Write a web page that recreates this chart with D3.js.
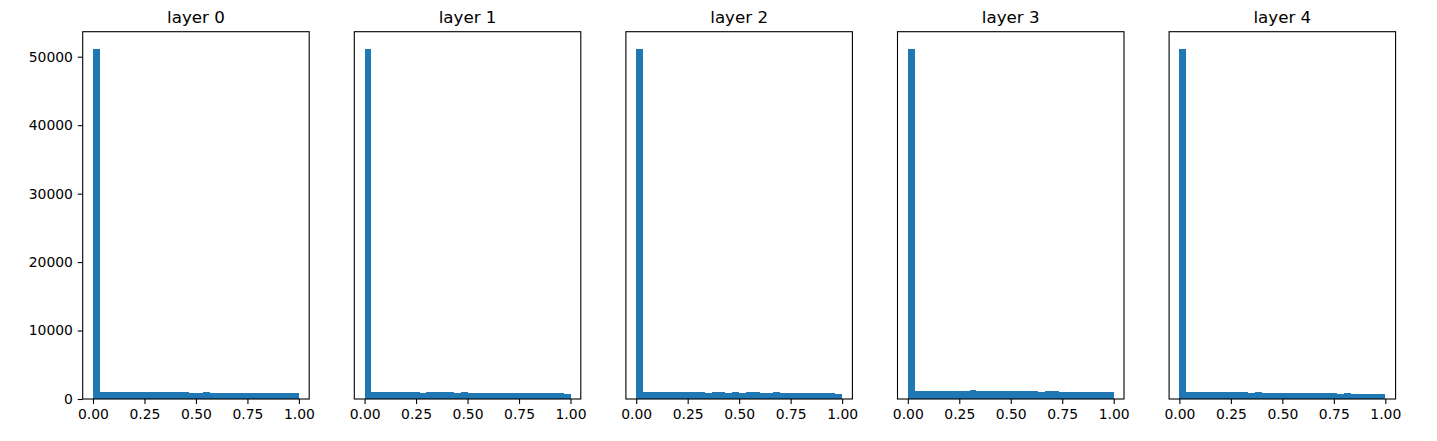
<!DOCTYPE html>
<html><head><meta charset="utf-8">
<script src="https://cdn.jsdelivr.net/npm/d3@7/dist/d3.min.js"></script>
<style>body{margin:0;background:#fff}svg{display:block}text{font-family:"DejaVu Sans",sans-serif;fill:#000}</style>
</head><body><svg id="c" width="1437" height="441"></svg>
<script>
const titles = ["layer 0","layer 1","layer 2","layer 3","layer 4"];
const binRange = [0, 1];
const binCount = 30;
const layer0 = [51100,1000,1000,1000,1000,1000,1000,1000,1000,1000,1000,1000,1000,1000,900,900,1000,900,900,900,900,900,900,900,900,900,900,900,900,900];
const layer1 = [51100,1000,1000,1000,1000,1000,1000,1000,900,1000,1000,1000,1000,900,1000,900,900,900,900,900,900,900,900,900,900,900,900,900,900,780];
const layer2 = [51100,1000,1000,1000,1000,1000,1000,1000,1000,1000,900,1000,1000,900,1000,900,1000,1000,900,900,1000,900,900,900,900,900,900,900,900,780];
const layer3 = [51100,1120,1120,1120,1120,1120,1120,1120,1120,1250,1120,1120,1120,1120,1120,1120,1120,1120,1120,1000,1120,1120,1000,1000,1000,1000,1000,1000,1000,1000];
const layer4 = [51100,1000,1000,1000,1000,1000,1000,1000,1000,1000,900,1000,900,900,900,900,900,900,900,900,900,900,900,780,900,780,780,780,780,780];
const layers = [layer0, layer1, layer2, layer3, layer4];
const xTicks = [0, 0.25, 0.5, 0.75, 1.0];
const yTicks = [0, 10000, 20000, 30000, 40000, 50000];

const svg = d3.select("#c");
const axW = 226.5, axTop = 31.7, axBottom = 399, firstLeft = 82.7, step = 271.6;
const ymax = d3.max(layers.flat()) * 1.05;
const y = d3.scaleLinear().domain([0, ymax]).range([axBottom, axTop]);
const pad = (binRange[1]-binRange[0])*0.05;

layers.forEach((vals, k) => {
  const left = firstLeft + k*step;
  const x = d3.scaleLinear().domain([binRange[0]-pad, binRange[1]+pad]).range([left, left+axW]);
  const g = svg.append("g");
  const bw = (binRange[1]-binRange[0])/binCount;
  g.append("g").attr("shape-rendering","crispEdges")
    .selectAll("rect").data(vals).join("rect")
    .attr("x", (d,i)=>x(binRange[0]+i*bw))
    .attr("width", (d,i)=>x(binRange[0]+(i+1)*bw)-x(binRange[0]+i*bw))
    .attr("y", d=>y(d))
    .attr("height", d=>y(0)-y(d))
    .attr("fill", "#1f77b4");
  g.append("rect").attr("x", left).attr("y", axTop).attr("width", axW).attr("height", axBottom-axTop)
    .attr("fill","none").attr("stroke","#000").attr("stroke-width",1.1);
  const xa = g.append("g").attr("transform", `translate(0,${axBottom})`)
    .call(d3.axisBottom(x).tickValues(xTicks).tickFormat(d3.format(".2f")).tickSize(4.9).tickPadding(4.9));
  xa.select(".domain").remove();
  xa.selectAll("line").attr("stroke","#000").attr("stroke-width",1.1);
  xa.selectAll("text").attr("font-size","13.9px").attr("font-family","DejaVu Sans").attr("fill","#000");
  if (k === 0) {
    const ya = g.append("g").attr("transform", `translate(${left},0)`)
      .call(d3.axisLeft(y).tickValues(yTicks).tickFormat(d3.format("d")).tickSize(4.9).tickPadding(4.9));
    ya.select(".domain").remove();
    ya.selectAll("line").attr("stroke","#000").attr("stroke-width",1.1);
    ya.selectAll("text").attr("font-size","13.9px").attr("font-family","DejaVu Sans").attr("fill","#000");
  }
  g.append("text").attr("x", left+axW/2).attr("y", axTop-8.3)
    .attr("text-anchor","middle").attr("font-size","16.7px").text(titles[k]);
});
</script></body></html>
